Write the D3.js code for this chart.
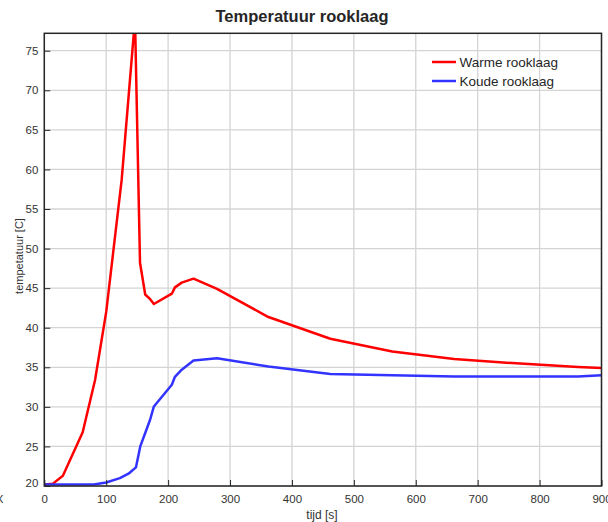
<!DOCTYPE html>
<html>
<head>
<meta charset="utf-8">
<script src="https://cdn.jsdelivr.net/npm/d3@7"></script>
<style>
  html, body { margin: 0; padding: 0; background: #fff; }
  svg { display: block; font-family: "Liberation Sans", Arial, Helvetica, sans-serif; }
</style>
</head>
<body>
<svg id="chart" width="608" height="522"></svg>
<script>
// ---- data ----
const timeRed  = [0, 14, 30, 62, 82, 100, 125, 146.5, 154.6, 163, 171, 177, 206, 211, 222, 241, 279, 362, 462, 562, 662, 762, 862, 900];
const warm     = [20.2, 20.3, 21.3, 26.8, 33.4, 42.0, 58.7, 79.0, 48.2, 44.2, 43.6, 43.0, 44.3, 45.1, 45.7, 46.2, 44.9, 41.35, 38.6, 37.0, 36.05, 35.5, 35.05, 34.9];
const timeBlue = [0, 80, 100, 122, 136, 148, 155, 163, 171, 177, 206, 211, 222, 241, 279, 362, 462, 562, 662, 762, 862, 900];
const koud     = [20.2, 20.2, 20.45, 21.0, 21.55, 22.35, 25.0, 26.7, 28.4, 30.05, 32.8, 33.8, 34.7, 35.85, 36.15, 35.1, 34.15, 34.0, 33.85, 33.85, 33.85, 34.0];
const xTicks = [0, 100, 200, 300, 400, 500, 600, 700, 800, 900];
const yTicks = [20, 25, 30, 35, 40, 45, 50, 55, 60, 65, 70, 75];
const seriesNames = ["Warme rooklaag", "Koude rooklaag"];
const seriesColors = ["#ff0000", "#3333ff"];
const titleText = "Temperatuur rooklaag";
const xLabel = "tijd [s]";
const yLabel = "tempetatuur [C]";

// ---- layout ----
const L = 44.3, R = 601.5, T = 33.3, B = 486;
const svg = d3.select("#chart");
const x = d3.scaleLinear().domain([0, 900]).range([L, R]);
const y = d3.scaleLinear().domain([20, 77.2]).range([B, T]);
const txt = "#262626";

// grid
const grid = svg.append("g");
grid.selectAll("line.v").data(xTicks).join("line")
  .attr("x1", d => x(d)).attr("x2", d => x(d)).attr("y1", T).attr("y2", B)
  .attr("stroke", "#d4d4d4").attr("stroke-width", 1.3);
grid.selectAll("line.h").data(yTicks).join("line")
  .attr("x1", L).attr("x2", R).attr("y1", d => y(d)).attr("y2", d => y(d))
  .attr("stroke", "#d4d4d4").attr("stroke-width", 1.3);

// clip
svg.append("clipPath").attr("id", "clip").append("rect")
  .attr("x", L).attr("y", T).attr("width", R - L).attr("height", B - T);

const line = d3.line().x(d => x(d[0])).y(d => y(d[1]));
const plot = svg.append("g").attr("clip-path", "url(#clip)");
plot.append("path").datum(timeRed.map((t, i) => [t, warm[i]]))
  .attr("d", line).attr("fill", "none").attr("stroke", seriesColors[0])
  .attr("stroke-width", 2.5).attr("stroke-linejoin", "round");
plot.append("path").datum(timeBlue.map((t, i) => [t, koud[i]]))
  .attr("d", line).attr("fill", "none").attr("stroke", seriesColors[1])
  .attr("stroke-width", 2.5).attr("stroke-linejoin", "round");

// axes (ticks inside)
const yAxis = d3.axisLeft(y).tickValues(yTicks).tickSizeInner(-6).tickSizeOuter(0).tickPadding(6);
const gy = svg.append("g").attr("transform", `translate(${L},0)`).call(yAxis);
gy.select(".domain").remove();
gy.selectAll("line").attr("stroke", txt).attr("stroke-width", 1);
gy.selectAll("text").attr("fill", "#333").attr("font-size", "11.5px")
  .attr("font-family", "Liberation Sans, Arial, sans-serif")
  .attr("dy", d => d === 20 ? "0em" : "0.32em");

const xAxis = d3.axisBottom(x).tickValues(xTicks).tickSizeInner(-6).tickSizeOuter(0).tickPadding(9);
const gx = svg.append("g").attr("transform", `translate(0,${B})`).call(xAxis);
gx.select(".domain").remove();
gx.selectAll("line").attr("stroke", txt).attr("stroke-width", 1);
gx.selectAll("text").attr("fill", "#333").attr("font-size", "11.5px")
  .attr("font-family", "Liberation Sans, Arial, sans-serif");

// frame
svg.append("rect").attr("x", L).attr("y", T).attr("width", R - L).attr("height", B - T)
  .attr("fill", "none").attr("stroke", txt).attr("stroke-width", 1.5);

// stray clipped glyph at left edge
svg.append("text").attr("x", 3.5).attr("y", 502.5).attr("text-anchor", "end")
  .attr("font-size", "11.5px").attr("fill", "#333").text("X");

// title
svg.append("text").attr("x", 302).attr("y", 22).attr("text-anchor", "middle")
  .attr("font-size", "16.5px").attr("font-weight", "bold").attr("fill", txt).text(titleText);

// labels
svg.append("text").attr("x", 322).attr("y", 519).attr("text-anchor", "middle")
  .attr("font-size", "12px").attr("fill", "#333").text(xLabel);
svg.append("text").attr("transform", "translate(23,256) rotate(-90)").attr("text-anchor", "middle")
  .attr("font-size", "11px").attr("fill", "#333").text(yLabel);

// legend
const lg = svg.append("g");
seriesNames.forEach((name, i) => {
  const yy = 62 + i * 19;
  lg.append("line").attr("x1", 432).attr("x2", 456).attr("y1", yy).attr("y2", yy)
    .attr("stroke", seriesColors[i]).attr("stroke-width", 2.5);
  lg.append("text").attr("x", 459.5).attr("y", yy + 4.8)
    .attr("font-size", "13.5px").attr("fill", txt).text(name);
});
</script>
</body>
</html>
